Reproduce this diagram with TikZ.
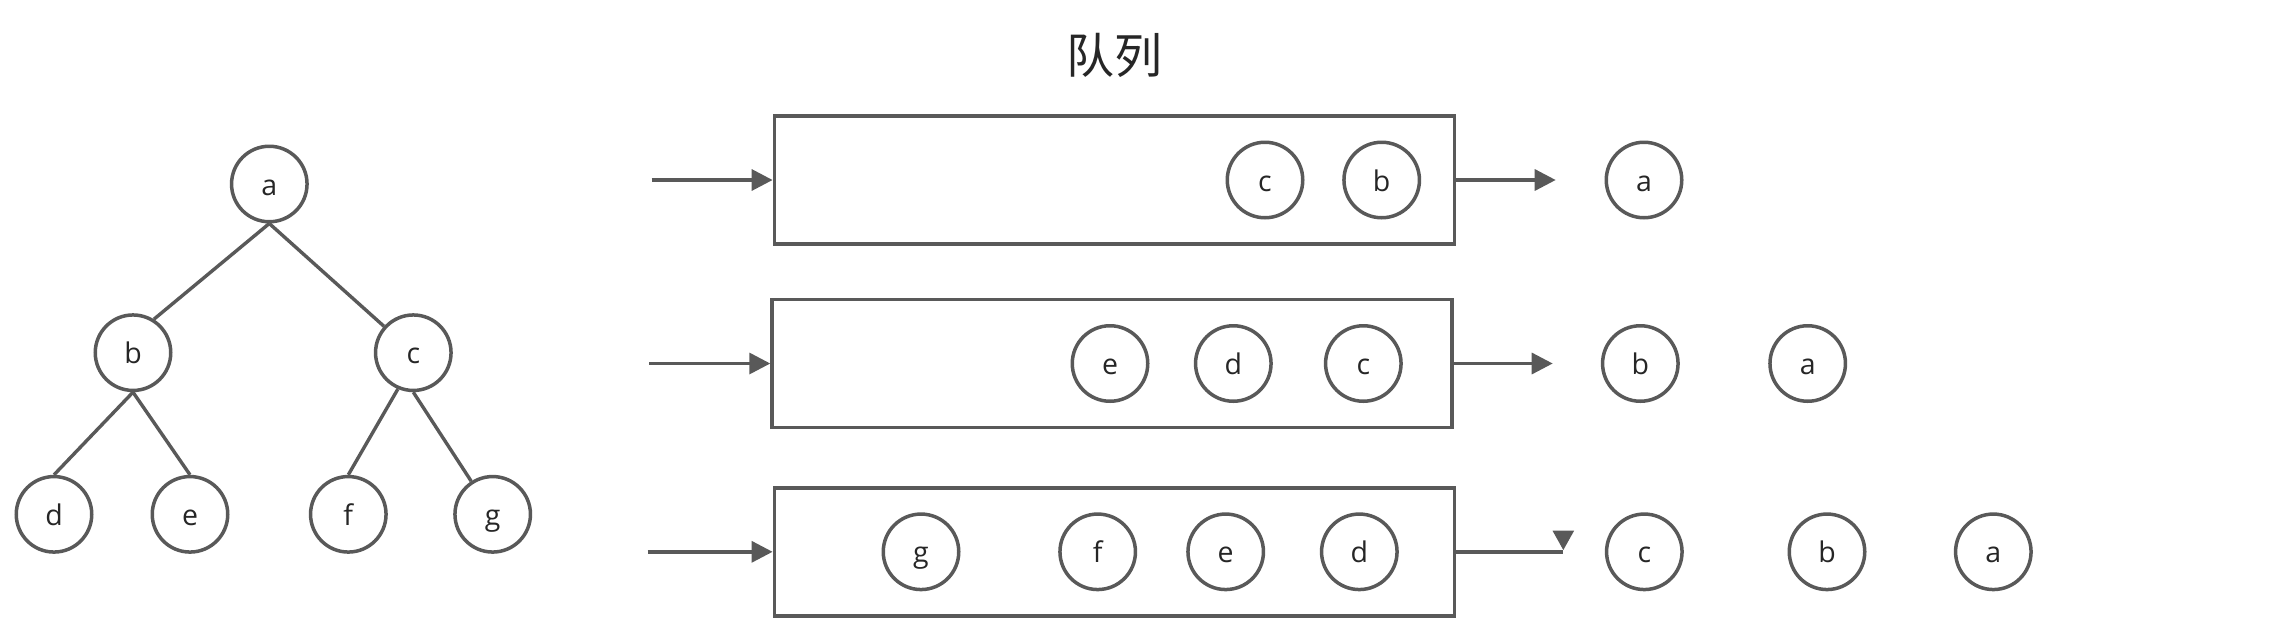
\documentclass[tikz,border=0pt]{standalone}
\usepackage{fontspec}
\setmainfont{Open Sans}
\newfontfamily\cjk{Noto Sans CJK SC}
\usetikzlibrary{arrows.meta}
\definecolor{linegray}{HTML}{595959}
\definecolor{textgray}{HTML}{262626}
\begin{document}
\begin{tikzpicture}[x=0.5pt,y=-0.5pt,
  ball/.style={circle, draw=linegray, line width=1.75pt, minimum size=37.75pt, inner sep=0pt,
    text=textgray, font=\fontsize{14.25pt}{16pt}\selectfont, text height=11pt, text depth=0pt},
  qbox/.style={draw=linegray, line width=1.7pt, minimum width=340pt, minimum height=64pt, inner sep=0pt},
  edge/.style={draw=linegray, line width=1.7pt},
  arr/.style={draw=linegray, line width=1.7pt, -{Triangle[length=10.5pt,width=10.5pt]}},
  title/.style={text=textgray, font=\cjk\fontsize{24pt}{28pt}\selectfont, inner sep=0pt}
]
\useasboundingbox (0,0) rectangle (2289,622);

% title
\node[title] (title) at (1114.5,55) {队列};

% tree
\node[ball] (ta) at (269.3,184) {a};
\node[ball] (tb) at (133,352.7) {b};
\node[ball] (tc) at (413.3,352.7) {c};
\node[ball] (td) at (54,514.3) {d};
\node[ball] (te) at (190,514.3) {e};
\node[ball] (tf) at (348.3,514.3) {f};
\node[ball] (tg) at (492.7,514.3) {g};
\draw[edge] (ta.south) -- (tb.58);
\draw[edge] (ta.south) -- (tc.138);
\draw[edge] (tb.south) -- (td.north);
\draw[edge] (tb.south) -- (te.north);
\draw[edge] (tc.247) -- (tf.north);
\draw[edge] (tc.south) -- (tg.123);

% row 1
\node[qbox] (q1) at (1114.3,180) {};
\coordinate (in1) at (651.7,180);
\coordinate (out1) at (1555.7,180);
\node[ball] (q1c) at (1265,180) {c};
\node[ball] (q1b) at (1381.7,180) {b};
\node[ball] (o1a) at (1644,180) {a};
\draw[arr] (in1) -- (q1.west);
\draw[arr] (q1.east) -- (out1);

% row 2
\node[qbox] (q2) at (1112,363.5) {};
\coordinate (in2) at (649,363.5);
\coordinate (out2) at (1552.7,363.5);
\node[ball] (q2e) at (1110,363.5) {e};
\node[ball] (q2d) at (1233.3,363.5) {d};
\node[ball] (q2c) at (1363.3,363.5) {c};
\node[ball] (o2b) at (1640.3,363.5) {b};
\node[ball] (o2a) at (1807.7,363.5) {a};
\draw[arr] (in2) -- (q2.west);
\draw[arr] (q2.east) -- (out2);

% row 3
\node[qbox] (q3) at (1114.3,551.8) {};
\coordinate (in3) at (647.7,551.8);
\coordinate (out3) at (1563.3,551.8);
\node[ball] (q3g) at (921,551.8) {g};
\node[ball] (q3f) at (1097.7,551.8) {f};
\node[ball] (q3e) at (1225.7,551.8) {e};
\node[ball] (q3d) at (1359.3,551.8) {d};
\node[ball] (o3c) at (1644.3,551.8) {c};
\node[ball] (o3b) at (1827,551.8) {b};
\node[ball] (o3a) at (1993.3,551.8) {a};
\draw[arr] (in3) -- (q3.west);
\draw[edge] (q3.east) -- (out3);
\fill[linegray] (out3) ++(0,-1.8) -- ++(-10.8,-19.3) -- ++(21.6,0) -- cycle;
\end{tikzpicture}
\end{document}
